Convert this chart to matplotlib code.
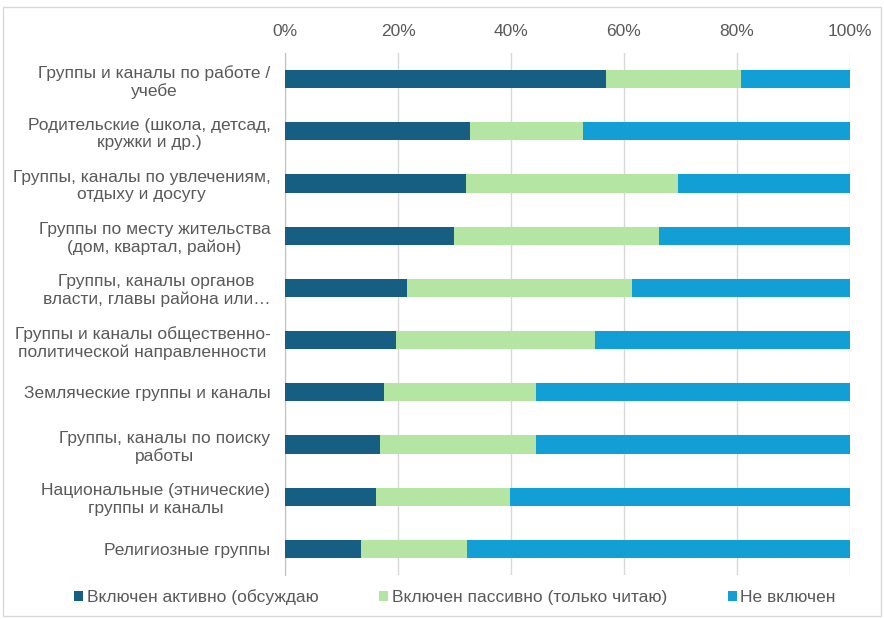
import numpy as np
import matplotlib
matplotlib.use("Agg")
from matplotlib import pyplot as plt
from matplotlib.patches import Rectangle

plt.rcParams['font.family'] = ['Liberation Sans', 'DejaVu Sans']

categories = [
    "Группы и каналы по работе /\nучебе",
    "Родительские (школа, детсад,\nкружки и др.)",
    "Группы, каналы по увлечениям,\nотдыху и досугу",
    "Группы по месту жительства\n(дом, квартал, район)",
    "Группы, каналы органов\nвласти, главы района или…",
    "Группы и каналы общественно-\nполитической направленности",
    "Земляческие группы и каналы",
    "Группы, каналы по поиску\nработы",
    "Национальные (этнические)\nгруппы и каналы",
    "Религиозные группы",
]
active = [56.9, 32.8, 32.1, 29.9, 21.6, 19.6, 17.6, 16.9, 16.1, 13.5]
passive = [23.8, 20.0, 37.4, 36.3, 39.8, 35.3, 26.8, 27.6, 23.7, 18.8]
not_incl = [100 - a - p for a, p in zip(active, passive)]

series_names = ["Включен активно (обсуждаю", "Включен пассивно (только читаю)", "Не включен"]
colors = ["#175F82", "#B5E5A2", "#119FD6"]

fig = plt.figure(figsize=(8.84, 6.19), dpi=100)
ax = fig.add_axes([285/884, 1 - 575/619, 565/884, 522/619])

y = np.arange(len(categories))
left = np.zeros(len(categories))
for vals, name, c in zip([active, passive, not_incl], series_names, colors):
    ax.barh(y, vals, left=left, height=0.35, color=c, label=name, zorder=3)
    left += np.array(vals)

ax.set_ylim(len(categories) - 0.5, -0.5)
ax.set_xlim(0, 100)
ax.set_xticks(np.arange(0, 101, 20))
ax.set_xticklabels([f"{v}%" for v in range(0, 101, 20)])
ax.xaxis.tick_top()
ax.tick_params(axis='x', length=0, pad=10, labelsize=12.5, labelcolor="#595959")
ax.set_yticks(y)
ax.set_yticklabels(categories, multialignment='center')
ax.tick_params(axis='y', length=0, pad=10.5, labelsize=12.5, labelcolor="#595959")
ax.grid(axis='x', color="#D9D9D9", linewidth=1, zorder=0)
for s in ['top', 'right', 'bottom']:
    ax.spines[s].set_visible(False)
ax.spines['left'].set_color("#BFBFBF")

fig.legend(loc='center', bbox_to_anchor=(0.5 + 13/884, 1 - 597/619), ncol=3, frameon=False,
           fontsize=12.5, handlelength=0.52, handleheight=0.52, handletextpad=0.2,
           columnspacing=3.5, labelcolor="#595959")

fig.patches.append(Rectangle((3/884, 3/619), 878/884, 609/619, transform=fig.transFigure,
                             fill=False, edgecolor="#D9D9D9", linewidth=1))

fig.savefig("out.png", dpi=100)
